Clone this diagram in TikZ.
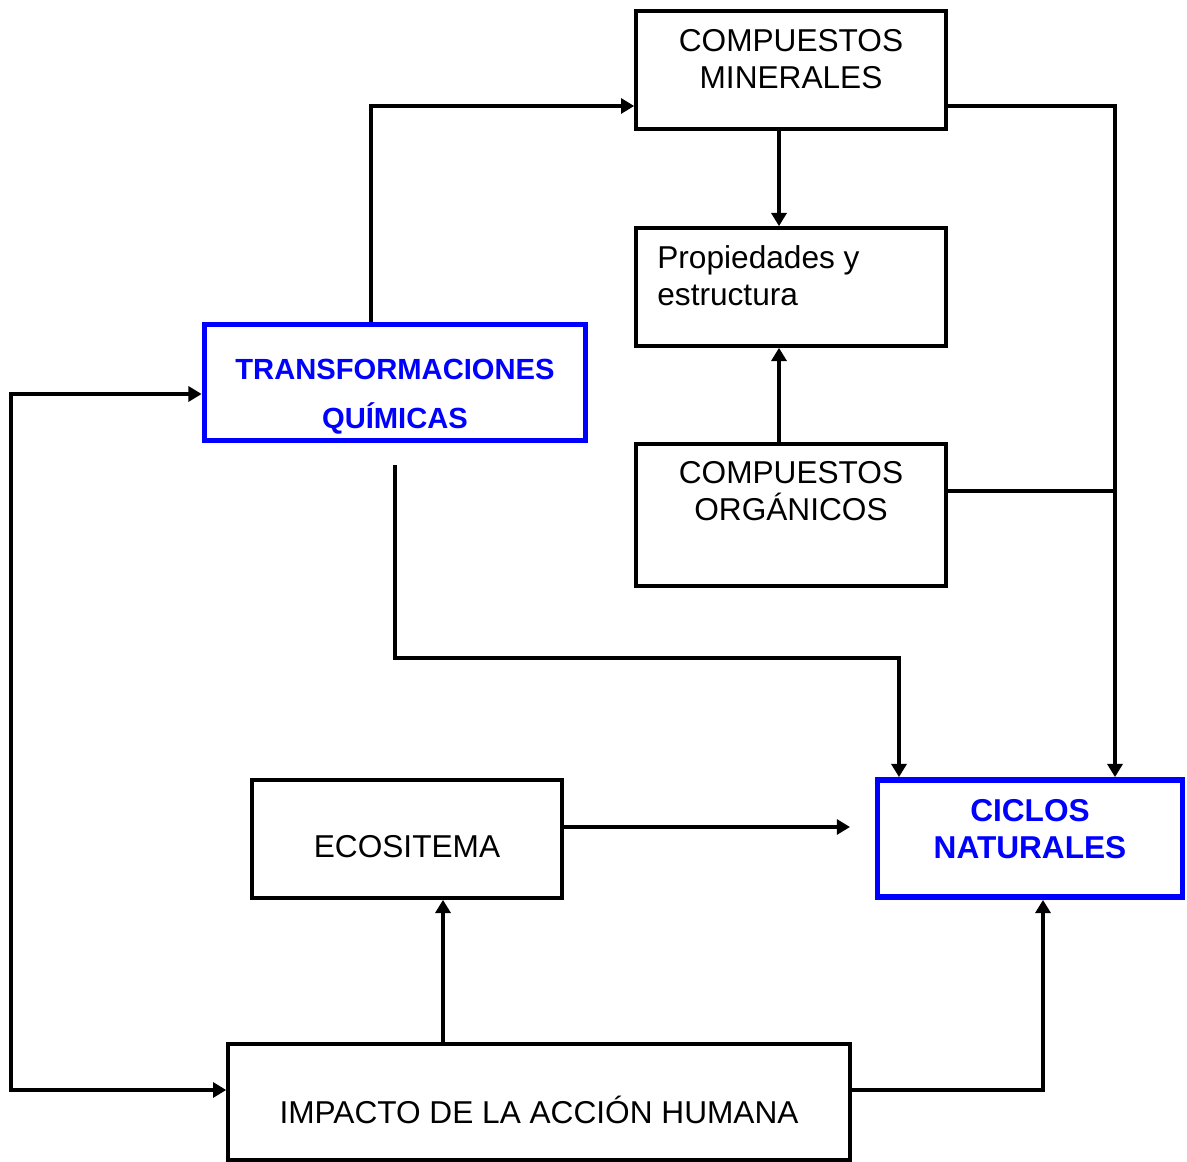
\documentclass[tikz,border=0pt]{standalone}
\usepackage{fontspec}
\setmainfont{Liberation Sans}
\usepackage{tikz}
\usetikzlibrary{arrows.meta}
\definecolor{pureblue}{RGB}{0,0,255}
\tikzstyle{box}=[rectangle,draw=black,line width=2.1pt,inner sep=0pt]
\tikzstyle{Bbox}=[rectangle,draw=pureblue,line width=3.3pt,inner sep=0pt]
\tikzstyle{txt}=[align=center,inner sep=0pt,font=\fontsize{18}{21}\selectfont]
\tikzstyle{Btxt}=[align=center,inner sep=0pt,text=pureblue,font=\bfseries\fontsize{16.6}{28}\selectfont]
\tikzstyle{conn}=[line width=2.1pt,-{Triangle[length=7.5pt,width=8.5pt]}]
\tikzstyle{line}=[line width=2.1pt]
\newcommand{\pxunit}{0.02cm}

\begin{document}
\begin{tikzpicture}[x=\pxunit,y=-\pxunit]
    \useasboundingbox (0,0) rectangle (1187,1162);

    % boxes
    \node[box,minimum width=6.2cm,minimum height=2.36cm] (Min) at (791,70) {};
    \node[box,minimum width=6.2cm,minimum height=2.36cm] (Prop) at (791,287) {};
    \node[box,minimum width=6.2cm,minimum height=2.84cm] (Org) at (791,515) {};
    \node[Bbox,minimum width=7.62cm,minimum height=2.32cm] (Trans) at (395,382.5) {};
    \node[box,minimum width=6.2cm,minimum height=2.36cm] (Eco) at (407,839) {};
    \node[Bbox,minimum width=6.1cm,minimum height=2.34cm] (Ciclos) at (1030,838.5) {};
    \node[box,minimum width=12.44cm,minimum height=2.32cm] (Imp) at (539,1102) {};

    % texts
    \node[txt] (tMin) at (791,59) {COMPUESTOS\\MINERALES};
    \node[txt,align=left,anchor=west] (tProp) at (657,276) {Propiedades y\\estructura};
    \node[txt] (tOrg) at (791,491) {COMPUESTOS\\ORG\'ANICOS};
    \node[Btxt] (tTrans) at (395,397) {TRANSFORMACIONES\\QU\'IMICAS};
    \node[txt] (tEco) at (407,847) {ECOSITEMA};
    \node[txt,font=\bfseries\fontsize{18}{21}\selectfont,text=pureblue] (tCic) at (1030,829) {CICLOS\\NATURALES};
    \node[txt] (tImp) at (539,1110) {IMPACTO DE LA ACCI\'ON HUMANA};

    % connectors
    \coordinate (jOrg) at (1115,491);
    \coordinate (tStart) at (395,465);
    \coordinate (eEnd) at (850,827);

    \draw[conn] (371,0 |- Trans.north) |- (Min.west |- 0,106);
    \draw[conn] (779,0 |- Min.south) -- (779,0 |- Prop.north);
    \draw[conn] (779,0 |- Org.north) -- (779,0 |- Prop.south);
    \draw[conn] (Min.east |- 0,106) -| (1115,0 |- Ciclos.north);
    \draw[line] (Org.east |- jOrg) -- (jOrg);
    \draw[conn] (tStart) |- (899,658) -- (899,0 |- Ciclos.north);
    \draw[conn] (Eco.east |- eEnd) -- (eEnd);
    \draw[conn] (443,0 |- Imp.north) -- (443,0 |- Eco.south);
    \draw[conn] (Imp.east |- 0,1090) -| (1043,0 |- Ciclos.south);
    \draw[line width=2.1pt,{Triangle[length=7.5pt,width=8.5pt]}-{Triangle[length=7.5pt,width=8.5pt]}]
        (Trans.west |- 0,394) -- (11,394) -- (11,1090) -- (Imp.west |- 0,1090);
\end{tikzpicture}
\end{document}
